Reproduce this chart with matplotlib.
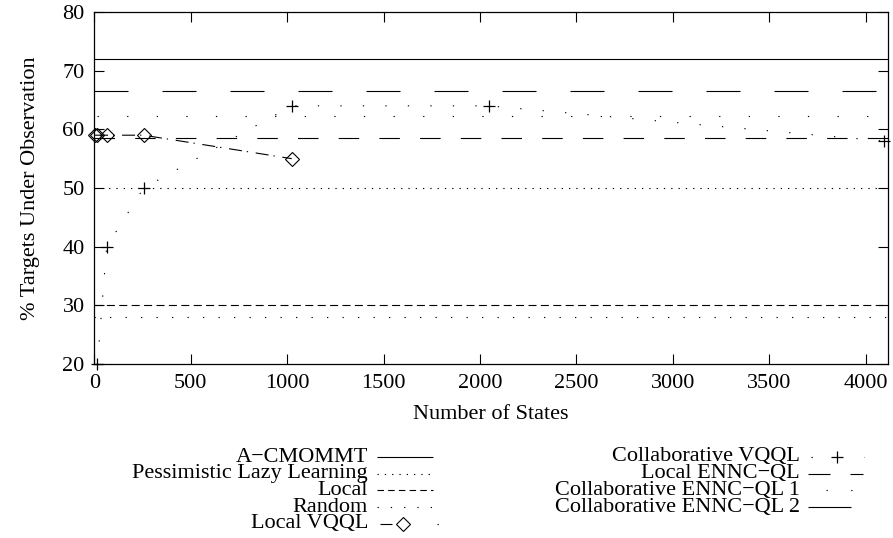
import matplotlib
matplotlib.use("Agg")
import matplotlib.pyplot as plt
from matplotlib.lines import Line2D

plt.rcParams['font.family'] = ['Liberation Serif', 'DejaVu Serif']
plt.rcParams['lines.scale_dashes'] = False

# ---------------- data ----------------
x_limits = [0, 4115]
x_ticks = [0, 500, 1000, 1500, 2000, 2500, 3000, 3500, 4000]
y_ticks = [20, 30, 40, 50, 60, 70, 80]

acmommt = 72.0
pessimistic = 50.0
local = 30.0
random_level = 28.0
local_ennc = 66.6
collab_ennc1 = 62.3
collab_ennc2 = 58.5

local_vqql_x = [4, 16, 64, 256, 1024]
local_vqql_y = [59, 59, 59, 59, 55]

collab_vqql_x = [16, 64, 256, 1024, 2048, 4096]
collab_vqql_y = [20, 40, 50, 64, 64, 58]

labels = ["A\u2212CMOMMT", "Pessimistic Lazy Learning", "Local", "Random",
          "Local VQQL", "Collaborative VQQL", "Local ENNC\u2212QL",
          "Collaborative ENNC\u2212QL 1", "Collaborative ENNC\u2212QL 2"]

# ---------------- figure ----------------
W, H = 893, 538
DPI = 100
fig = plt.figure(figsize=(W / DPI, H / DPI), dpi=DPI)
L, R, T, B = 94.3, 887.7, 12.0, 364.0
ax = fig.add_axes([L / W, 1 - B / H, (R - L) / W, (B - T) / H])

PX = 72.0 / DPI  # points per pixel
def d(*px):
    return tuple(v * PX for v in px)

LW = 0.8
K = 'black'

st_pess = (0, d(1.3, 6.0))
st_local = (0, d(8.0, 4.4))
st_random = (0, d(1.3, 14.2))
st_vqql = (0, d(13.0, 5.0, 1.3, 7.7))
st_cvqql = (0, d(1.3, 21.2))
st_ennc = (0, d(34.0, 34.0))
st_ennc1 = (26.6 * PX, d(1.3, 28.3))
st_ennc2 = (0, d(20.5, 20.2))

xs = x_limits
ax.plot(xs, [acmommt] * 2, color=K, lw=LW, ls='-', solid_capstyle='butt')
ax.plot(xs, [pessimistic] * 2, color=K, lw=LW, ls=st_pess, dash_capstyle='butt')
ax.plot(xs, [local] * 2, color=K, lw=LW, ls=st_local, dash_capstyle='butt')
ax.plot(xs, [random_level] * 2, color=K, lw=LW, ls=st_random, dash_capstyle='butt')
ax.plot(xs, [local_ennc] * 2, color=K, lw=LW, ls=st_ennc, dash_capstyle='butt')
ax.plot(xs, [collab_ennc1] * 2, color=K, lw=LW, ls=st_ennc1, dash_capstyle='butt')
ax.plot(xs, [collab_ennc2] * 2, color=K, lw=LW, ls=st_ennc2, dash_capstyle='butt')

ax.plot(local_vqql_x, local_vqql_y, color=K, lw=LW, ls=st_vqql, dash_capstyle='butt',
        marker='D', markersize=7.5, markerfacecolor='none', markeredgecolor=K,
        markeredgewidth=0.8, clip_on=False)
ax.plot(collab_vqql_x, collab_vqql_y, color=K, lw=LW, ls=st_cvqql, dash_capstyle='butt',
        marker='+', markersize=9, markeredgewidth=0.9, clip_on=False)

ax.set_xlim(x_limits)
ax.set_ylim(20, 80)
ax.set_xticks(x_ticks)
ax.set_yticks(y_ticks)
ax.tick_params(direction='in', length=7.5, width=0.8, top=True, right=True,
               labelsize=16, colors=K)
ax.tick_params(axis='x', pad=7)
ax.tick_params(axis='y', pad=7)
for s in ax.spines.values():
    s.set_linewidth(0.9)
    s.set_color(K)

ax.set_xlabel("Number of States", fontsize=16, labelpad=9)
ax.set_ylabel("% Targets Under Observation", fontsize=16, labelpad=16)

# ---------------- legend (gnuplot style) ----------------
def fx(px):
    return px / W
def fy(py):
    return 1 - py / H

row_y = [457, 473.7, 490.4, 507.1, 523.8]
col1_text, col1_s0, col1_s1 = 368, 377, 433
col2_text, col2_s0, col2_s1 = 800, 808, 863

# (label, column, row, sample x-points in px, marker index, style)
entries = [
    (labels[0], 1, 0, [377, 433], None, dict(ls='-')),
    (labels[1], 1, 1, [377, 433], None, dict(ls=(0, d(1.3, 6.0)))),
    (labels[2], 1, 2, [377, 433], None, dict(ls=(0, d(6.5, 4.2)))),
    (labels[3], 1, 3, [377, 433], None, dict(ls=(0, d(1.3, 12.0)))),
    (labels[4], 1, 4, [380, 403, 440], 1,
     dict(ls=(0, d(12.0, 45.0, 1.3, 10.0)), marker='D', markersize=7.5,
          markerfacecolor='none', markeredgewidth=0.8)),
    (labels[5], 2, 0, [811, 837, 864], 1,
     dict(ls=(0, d(1.3, 51.4)), marker='+', markersize=9, markeredgewidth=0.9)),
    (labels[6], 2, 1, [808, 863], None, dict(ls=(0, d(22.0, 20.0)))),
    (labels[7], 2, 2, [826, 852], None, dict(ls=(0, d(1.3, 23.4)))),
    (labels[8], 2, 3, [808, 851], None, dict(ls='-')),
]

for text, col, row, sx, mi, style in entries:
    tx = col1_text if col == 1 else col2_text
    yy = row_y[row]
    fig.text(fx(tx), fy(yy), text, ha='right', va='center', fontsize=16, color=K)
    kw = dict(color=K, lw=LW, transform=fig.transFigure, dash_capstyle='butt',
              solid_capstyle='butt')
    kw.update(style)
    if mi is not None:
        kw['markevery'] = [mi]
        kw['markeredgecolor'] = K
    line = Line2D([fx(v) for v in sx], [fy(yy)] * len(sx), **kw)
    fig.add_artist(line)

fig.savefig("out.png", dpi=DPI)
